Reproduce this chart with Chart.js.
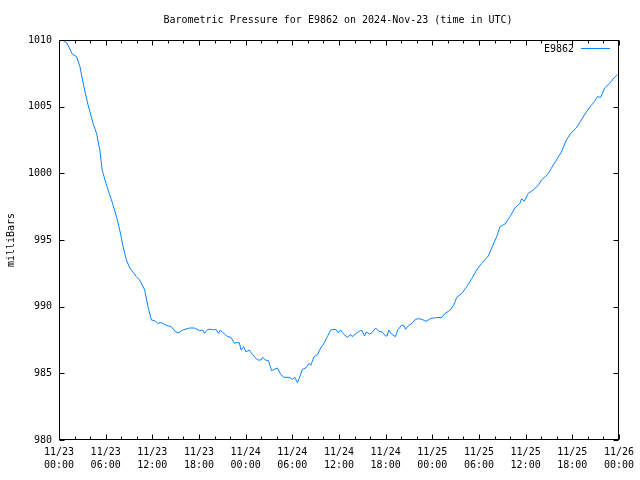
<!DOCTYPE html>
<html>
<head>
<meta charset="utf-8">
<script src="https://cdn.jsdelivr.net/npm/chart.js@4/dist/chart.umd.min.js"></script>
<style>
html,body{margin:0;padding:0;background:#fff;}
#wrap{width:640px;height:480px;}
</style>
</head>
<body>
<div id="wrap"><canvas id="c" width="640" height="480"></canvas></div>
<script>
// Hours since 2024-11-23 00:00 UTC
const hours = [0,0.42,0.99,1.70,2.27,2.69,3.24,3.75,4.38,4.83,5.25,5.55,6.11,6.75,7.39,7.81,8.24,8.67,9.10,9.95,
10.37,11.02,11.44,11.88,12.30,12.72,13.16,13.80,14.44,14.99,15.41,15.92,16.78,17.42,18.06,18.49,18.70,19.13,19.56,19.86,
20.20,20.50,20.75,21.26,21.69,22.12,22.55,22.76,23.19,23.41,23.74,24.05,24.47,24.89,25.53,25.97,26.17,26.52,26.94,27.33,
27.67,28.09,28.53,28.95,29.59,30.02,30.32,30.66,30.87,31.30,31.73,32.16,32.37,32.80,33.22,33.65,34.08,34.50,34.94,35.58,
35.91,36.22,36.51,37.06,37.50,37.70,38.34,38.78,38.98,39.29,39.50,39.93,40.26,40.70,41.12,41.55,41.98,42.19,42.40,42.75,
43.26,43.56,44.03,44.33,44.55,44.97,45.39,45.82,46.25,46.67,47.18,47.75,48.39,49.23,49.67,50.31,50.73,51.15,51.79,52.43,
53.07,53.71,54.35,55.21,55.64,56.28,56.71,57.35,57.99,58.63,59.27,59.48,59.82,60.34,60.98,61.62,62.04,62.81,63.32,63.96,
64.60,65.24,65.81,66.52,67.16,67.80,68.45,68.88,69.22,69.65,70.16,70.80,71.44,71.78];
const pressure = [1010.0,1010.0,1009.8,1008.95,1008.75,1008.0,1006.4,1005.1,1003.75,1003.0,1001.75,1000.25,999.1,998.0,996.75,995.75,994.5,993.5,992.9,992.25,
992.0,991.25,990.0,989.0,988.95,988.75,988.8,988.6,988.5,988.1,988.05,988.25,988.4,988.4,988.2,988.25,988.0,988.3,988.3,988.25,
988.3,988.0,988.25,987.95,987.75,987.7,987.25,987.3,987.3,986.75,987.0,986.6,986.75,986.4,986.0,986.0,986.2,986.0,985.95,985.2,
985.3,985.4,984.9,984.7,984.7,984.55,984.7,984.3,984.6,985.3,985.4,985.75,985.6,986.25,986.4,986.9,987.25,987.75,988.25,988.3,
988.05,988.25,988.0,987.7,987.9,987.75,988.05,988.2,988.2,987.8,988.1,987.95,988.05,988.4,988.15,988.1,987.8,987.8,988.25,987.95,
987.75,988.25,988.6,988.6,988.3,988.6,988.75,989.05,989.1,989.05,988.9,989.1,989.17,989.2,989.5,989.75,990.1,990.7,991.0,991.5,
992.1,992.75,993.25,993.8,994.4,995.25,996.0,996.2,996.75,997.4,997.75,998.1,997.9,998.5,998.75,999.1,999.5,999.9,1000.4,1001.0,
1001.6,1002.5,1003.0,1003.4,1004.0,1004.6,1005.1,1005.4,1005.75,1005.7,1006.4,1006.75,1007.2,1007.4];
const tickDates = ['11/23','11/23','11/23','11/23','11/24','11/24','11/24','11/24','11/25','11/25','11/25','11/25','11/26'];
const tickTimes = ['00:00','06:00','12:00','18:00','00:00','06:00','12:00','18:00','00:00','06:00','12:00','18:00','00:00'];
const yTicks = [980,985,990,995,1000,1005,1010];
const seriesName = 'E9862';
const titleText = 'Barometric Pressure for E9862 on 2024-Nov-23 (time in UTC)';
const yTitle = 'milliBars';

const FONT = 'DejaVu Sans Mono';
const lineColor = '#0a84ff';

const points = hours.map((h, i) => ({x: h, y: pressure[i]}));

const framePlugin = {
  id: 'frame',
  afterDatasetsDraw(chart) {
    const ctx = chart.ctx, a = chart.chartArea;
    const xs = chart.scales.x, ys = chart.scales.y;
    ctx.save();
    ctx.strokeStyle = '#000';
    ctx.lineWidth = 1;
    ctx.beginPath();
    const L = Math.round(a.left) + 0.5, R = Math.round(a.right) - 0.5;
    const T = Math.round(a.top) + 0.5, B = Math.round(a.bottom) - 0.5;
    // inward ticks on x (bottom and top)
    for (let h = 0; h <= 72; h += 2) {
      const px = Math.round(xs.getPixelForValue(h)) + 0.5;
      const len = (h % 6 === 0) ? 5 : 3;
      ctx.moveTo(px, B); ctx.lineTo(px, B - len);
      ctx.moveTo(px, T); ctx.lineTo(px, T + len);
    }
    // inward ticks on y (left and right)
    yTicks.forEach(v => {
      const py = Math.round(ys.getPixelForValue(v)) + 0.5;
      ctx.moveTo(L, py); ctx.lineTo(L + 5, py);
      ctx.moveTo(R, py); ctx.lineTo(R - 5, py);
    });
    ctx.stroke();
    ctx.strokeRect(L, T, R - L, B - T);
    // title
    ctx.fillStyle = '#000';
    ctx.font = '10px "' + FONT + '"';
    ctx.textAlign = 'center';
    ctx.textBaseline = 'middle';
    ctx.fillText(titleText, 338, 20);
    // key
    ctx.textAlign = 'right';
    ctx.fillText(chart.data.datasets[0].label, 574, 49);
    ctx.strokeStyle = chart.data.datasets[0].borderColor;
    ctx.beginPath();
    ctx.moveTo(581, 48.5); ctx.lineTo(610, 48.5);
    ctx.stroke();
    ctx.restore();
  }
};

new Chart(document.getElementById('c'), {
  type: 'line',
  data: {
    datasets: [{
      label: seriesName,
      data: points,
      borderColor: lineColor,
      borderWidth: 1,
      pointRadius: 0,
      tension: 0,
      fill: false
    }]
  },
  options: {
    responsive: false,
    animation: false,
    devicePixelRatio: 1,
    layout: {padding: {top: 40, right: 19, left: 0, bottom: 0}},
    plugins: {legend: {display: false}, title: {display: false}, tooltip: {enabled: false}},
    scales: {
      x: {
        type: 'linear', min: 0, max: 72,
        grid: {display: false, drawTicks: false},
        border: {display: false},
        ticks: {
          stepSize: 6, autoSkip: false, maxRotation: 0, minRotation: 0,
          padding: 6, color: '#000',
          font: {family: FONT, size: 10, lineHeight: 1.3},
          callback: (v) => [tickDates[Math.round(v / 6)], tickTimes[Math.round(v / 6)]]
        },
        afterFit(s) { s.height = 40; }
      },
      y: {
        min: 980, max: 1010,
        grid: {display: false, drawTicks: false},
        border: {display: false},
        afterBuildTicks(s) { s.ticks = yTicks.map(v => ({value: v})); },
        ticks: {
          padding: 7, color: '#000',
          font: {family: FONT, size: 10},
          callback: (v) => String(v)
        },
        title: {
          display: true, text: yTitle, color: '#000',
          font: {family: FONT, size: 10, lineHeight: 1.2},
          padding: {top: 5, bottom: 0}
        },
        afterFit(s) { s.width = 59; }
      }
    }
  },
  plugins: [framePlugin]
});
</script>
</body>
</html>
